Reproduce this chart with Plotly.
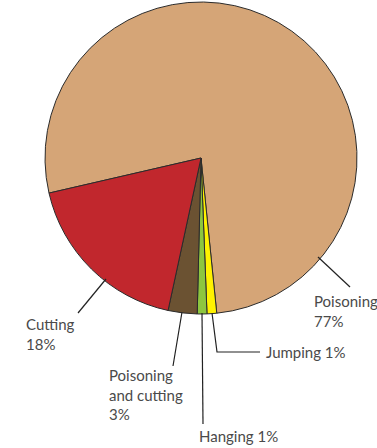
import plotly.graph_objects as go

W, H = 377, 448

labels = ["Poisoning", "Jumping", "Hanging", "Poisoning and cutting", "Cutting"]
values = [77, 1, 1, 3, 18]
colors = ["#D5A577", "#FFF200", "#8DC63F", "#6B5232", "#C1272D"]

# label text, anchor point (px), leader line polyline (px)
label_text = ["Poisoning<br>77%", "Jumping 1%", "Hanging 1%",
              "Poisoning<br>and cutting<br>3%", "Cutting<br>18%"]
label_pos = [(312, 290), (264, 352), (197, 436), (107, 364), (24, 313)]
label_anchor = [("left", "top"), ("left", "middle"), ("left", "middle"),
                ("left", "top"), ("left", "top")]
leaders = [
    [(318, 257), (350, 287)],
    [(212, 313), (217, 352), (260, 352)],
    [(202, 313), (203, 424)],
    [(182, 312), (173, 366)],
    [(106, 279), (78, 313)],
]


def px2paper(x, y):
    return x / W, 1 - y / H


fig = go.Figure(go.Pie(
    labels=labels,
    values=values,
    marker=dict(colors=colors, line=dict(color="#2b2b2b", width=1)),
    sort=False,
    direction="clockwise",
    rotation=-103,
    textinfo="none",
    hoverinfo="label+percent",
    domain=dict(x=[45 / W, 357 / W], y=[1 - 314 / H, 1 - 2 / H]),
    showlegend=False,
))

shapes = []
for pts in leaders:
    path = ""
    for i, (x, y) in enumerate(pts):
        px_, py_ = px2paper(x, y)
        path += ("M" if i == 0 else "L") + f"{px_},{py_} "
    shapes.append(dict(type="path", xref="paper", yref="paper", path=path.strip(),
                       line=dict(color="#222222", width=1.2)))

annotations = []
for txt, (x, y), (xa, ya) in zip(label_text, label_pos, label_anchor):
    ax, ay = px2paper(x, y)
    annotations.append(dict(text=txt, x=ax, y=ay, xref="paper", yref="paper",
                            xanchor=xa, yanchor=ya, align="left", showarrow=False,
                            font=dict(family="Lato", size=15, color="#4a4a4a")))

fig.update_layout(
    width=W, height=H,
    margin=dict(l=0, r=0, t=0, b=0),
    paper_bgcolor="white",
    plot_bgcolor="white",
    shapes=shapes,
    annotations=annotations,
)

# drop the browser's default body margin so the figure sits at the page corner
fig.write_html("out.html", config={"displayModeBar": False},
               post_script="document.body.style.margin='0';")
